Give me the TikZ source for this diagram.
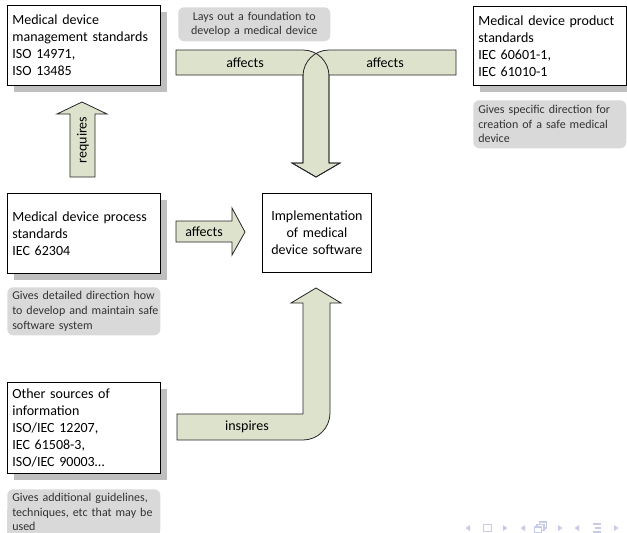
\documentclass[tikz,border=0pt]{standalone}
\usepackage{fontspec}
\setmainfont{Carlito}
\usetikzlibrary{shadows}
\definecolor{arrowfill}{HTML}{DDE2CC}
\definecolor{notefill}{HTML}{D9D9D9}
\definecolor{shadowgray}{HTML}{BFBFBF}
\definecolor{navcol}{HTML}{C8CBE8}
\newcommand{\oneline}[1]{\mbox{#1}}
\begin{document}
\begin{tikzpicture}[x=0.75pt,y=-0.75pt,
  stdbox/.style={draw=black, line width=0.6pt, fill=white, anchor=north west,
    inner xsep=3.75pt, inner ysep=0pt, align=left,
    font=\fontsize{10.5}{12.75}\selectfont, text width=107.25pt,
    minimum height=60pt,
    general shadow={fill=shadowgray, draw=none, shadow xshift=5.25pt, shadow yshift=-5.25pt}},
  centerbox/.style={draw=black, line width=0.6pt, fill=white, anchor=north west,
    inner xsep=3pt, inner ysep=0pt, align=center,
    font=\fontsize{10.5}{12.75}\selectfont, text width=75.75pt,
    minimum height=59.25pt},
  note/.style={fill=notefill, rounded corners=4.5pt, anchor=north west,
    inner xsep=3.75pt, inner ysep=0pt, align=left, text=black!80,
    font=\fontsize{9}{10.9}\selectfont, text width=107.25pt, minimum height=36pt},
  blockarrow/.style={fill=arrowfill, draw=black!85, line width=0.6pt, line join=miter},
  arrowlabel/.style={font=\fontsize{10.5}{12.75}\selectfont, inner sep=0pt},
  navsym/.style={fill=navcol, draw=none},
  navline/.style={draw=navcol, line width=0.9pt, fill=none}
]
\useasboundingbox (0,0) rectangle (627,532);

% boxes
\node[stdbox] (mgmt) at (7,5) {Medical device\\management standards\\ISO 14971,\\ISO 13485};
\node[stdbox, minimum height=59.25pt] (product) at (473,6) {Medical device product\\standards\\IEC 60601-1,\\IEC 61010-1};
\node[stdbox] (process) at (7,193) {Medical device process\\standards\\IEC 62304};
\node[stdbox, minimum height=68.25pt] (other) at (7,382) {Other sources of\\information\\ISO/IEC 12207,\\IEC 61508-3,\\ISO/IEC 90003\dots};
\node[centerbox] (impl) at (262,193) {Implementation\\of medical\\device software};

% notes
\node[note, align=center, text width=106.5pt, minimum height=25.5pt] (foundation) at (178,7) {\oneline{Lays out a foundation to}\\\oneline{develop a medical device}};
\node[note] (productnote) at (473,100) {\oneline{Gives specific direction for}\\\oneline{creation of a safe medical}\\device};
\node[note] (processnote) at (7,287) {\oneline{Gives detailed direction how}\\\oneline{to develop and maintain safe}\\\oneline{software system}};
\fill[notefill] (7,510) rectangle (160,540);
\node[note, minimum height=34.5pt] (othernote) at (7,489) {\oneline{Gives additional guidelines,}\\\oneline{techniques, etc that may be}\\used};

% T-shaped arrow (fills first, then outlines)
\def\leftT{(176,50) -- (303,50) .. controls (317.4,50) and (329,61.6) .. (329,76) -- (329,163) -- (340,163) -- (316,177) -- (292,163) -- (303,163) -- (303,75) -- (176,75) -- cycle}
\def\rightT{(456,50) -- (329,50) .. controls (314.6,50) and (303,61.6) .. (303,76) -- (303,163) -- (292,163) -- (316,177) -- (340,163) -- (329,163) -- (329,75) -- (456,75) -- cycle}
\fill[arrowfill] \leftT;
\fill[arrowfill] \rightT;
\draw[blockarrow, fill=none] \leftT;
\draw[blockarrow, fill=none] \rightT;
\node[arrowlabel] (affL) at (245,63) {affects};
\node[arrowlabel] (affR) at (385,63) {affects};

% requires arrow
\draw[blockarrow] (70,177) -- (70,114) -- (57,114) -- (82,102) -- (107,114) -- (95,114) -- (95,177) -- cycle;
\node[arrowlabel, rotate=90] (req) at (83,140) {requires};

% affects arrow (process -> implementation)
\draw[blockarrow] (176,221) -- (232,221) -- (232,208) -- (245,232) -- (232,255) -- (232,242) -- (176,242) -- cycle;
\node[arrowlabel] (affP) at (204,232) {affects};

% inspires arrow
\draw[blockarrow] (177,414) -- (303,414) -- (303,303) -- (291,303) -- (316,288) -- (341,303) -- (330,303) -- (330,413) .. controls (330,427.9) and (317.9,440) .. (303,440) -- (177,440) -- cycle;
\node[arrowlabel] (insp) at (247,427) {inspires};

% beamer navigation symbols
\fill[navsym] (465.5,528) -- (470,525) -- (470,531) -- cycle;
\draw[navline] (483.5,524.5) rectangle (491.5,531.5);
\fill[navsym] (507.5,528) -- (503,525) -- (503,531) -- cycle;
\fill[navsym] (520.5,528) -- (525,525) -- (525,531) -- cycle;
\draw[navline, fill=white] (539.5,522) rectangle (546.5,528);
\draw[navline, fill=white] (537,524.5) rectangle (544,530.5);
\draw[navline, fill=white] (534.5,527) rectangle (541.5,533);
\fill[navsym] (562.5,528) -- (558,525) -- (558,531) -- cycle;
\fill[navsym] (574.5,528) -- (579,525) -- (579,531) -- cycle;
\draw[navline] (593,524) -- (601,524);
\draw[navline] (595,528) -- (601,528);
\draw[navline] (593,532) -- (601,532);
\fill[navsym] (618.5,528) -- (614,525) -- (614,531) -- cycle;
\end{tikzpicture}
\end{document}
